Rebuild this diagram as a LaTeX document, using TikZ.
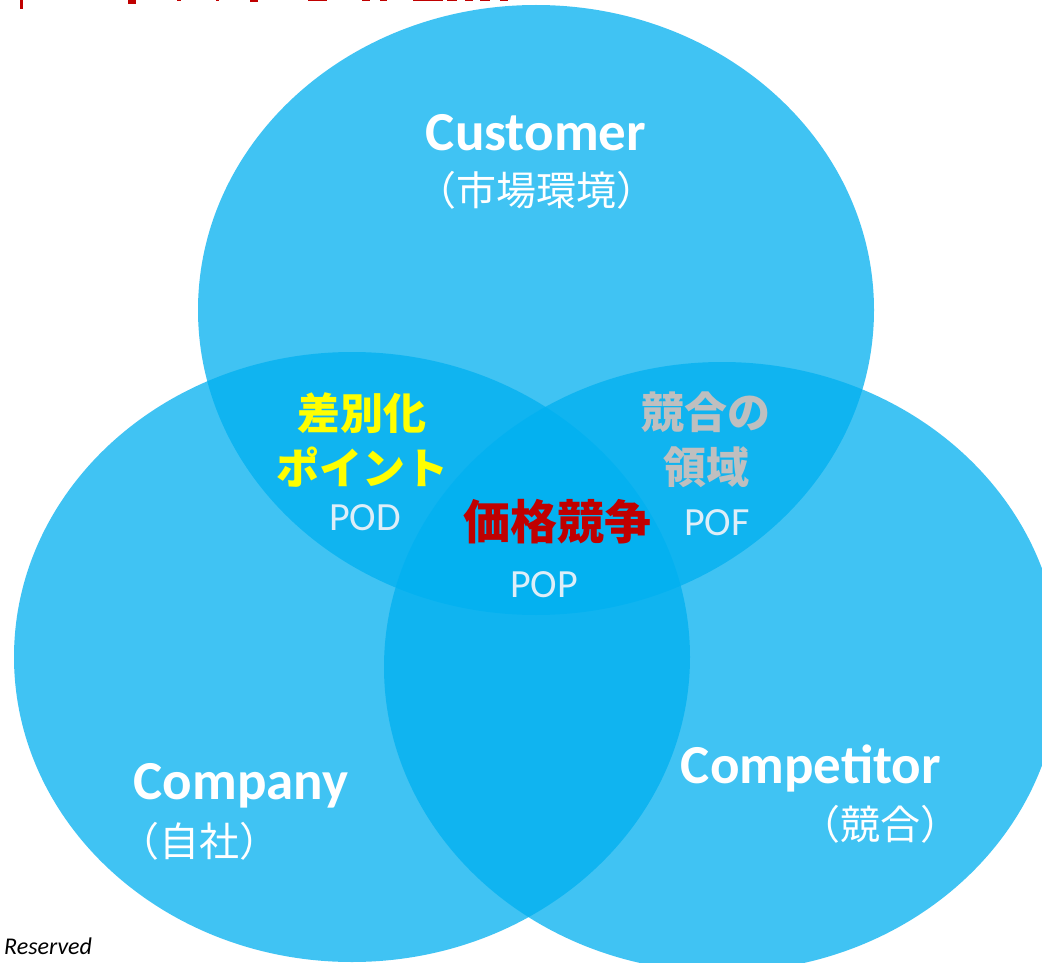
\documentclass[tikz,border=0pt]{standalone}
\usepackage{fontspec}
\setmainfont{Carlito}
\newfontfamily\jp{Noto Sans CJK JP}
\definecolor{cblue}{RGB}{0,176,240}
\definecolor{podtxt}{RGB}{222,238,248}
\definecolor{darkred}{RGB}{192,0,0}
\definecolor{grytxt}{RGB}{191,191,191}
\definecolor{ylw}{RGB}{255,255,0}
\tikzset{
  circ/.style={fill=cblue, fill opacity=0.75},
  titleen/.style={text=white, font=\fontsize{55}{60}\selectfont\bfseries, inner sep=0pt},
  subjp/.style={text=white, font=\jp\fontsize{40}{44}\selectfont, inner sep=0pt},
  zonejp/.style={font=\jp\bfseries\fontsize{43}{55}\selectfont, inner sep=0pt, align=center},
  code/.style={text=podtxt, font=\fontsize{40}{44}\selectfont, inner sep=0pt},
  frag/.style={fill=darkred}
}
\begin{document}
\begin{tikzpicture}[x=1pt,y=-1pt]
\useasboundingbox (0,0) rectangle (1042,963);
\clip (0,0) rectangle (1042,963);
\fill[white] (0,0) rectangle (1042,963);
% title fragments (cut off at top)
\fill[frag] (20,0) rectangle (23,9);
\fill[frag] (128,0) rectangle (136,4);
\fill[frag] (177,0) rectangle (181,1.5);
\fill[frag] (216,0) rectangle (219,1.5);
\fill[frag] (250,0) rectangle (258,2.5);
\fill[frag] (308,0) rectangle (327,1.2);
\fill[frag] (362,0) rectangle (370,1.5);
\fill[frag] (380,0) rectangle (387,1.2);
\fill[frag] (413,0) rectangle (443,1.5);
\fill[frag] (447,0) rectangle (457,1.5);
\fill[frag] (465,0) rectangle (473,1.5);
\fill[frag] (480,0) rectangle (490,1.5);
\fill[frag] (500,0) rectangle (508,1.5);
% circles
\fill[circ] (536,310) ellipse [x radius=338, y radius=305];
\fill[circ] (352,657) ellipse [x radius=338, y radius=305];
\fill[circ] (722,667) ellipse [x radius=338, y radius=305];
% labels
\node[titleen] (cust) at (536,133) {Customer};
\node[subjp] (custj) at (536,190) {（市場環境）};
\node[titleen] (comp) at (241,786) {Company};
\node[subjp] (compj) at (199,841) {（自社）};
\node[titleen] (compt) at (811,768) {Competitor};
\node[subjp] (comptj) at (880,824) {（競合）};
\node[zonejp, text=ylw] (diff) at (362,440) {差別化\\ポイント};
\node[code] (pod) at (365,518) {POD};
\node[zonejp, text=grytxt] (kyo) at (706,440) {競合の\\領域};
\node[code] (pof) at (717,523) {POF};
\node[zonejp, text=darkred, font=\jp\bfseries\fontsize{47}{55}\selectfont] (price) at (557,522) {価格競争};
\node[code] (pop) at (544,585) {POP};
\node[inner sep=0pt, anchor=west, font=\itshape\fontsize{24}{26}\selectfont] (rsv) at (4,946) {Reserved};
\end{tikzpicture}
\end{document}
